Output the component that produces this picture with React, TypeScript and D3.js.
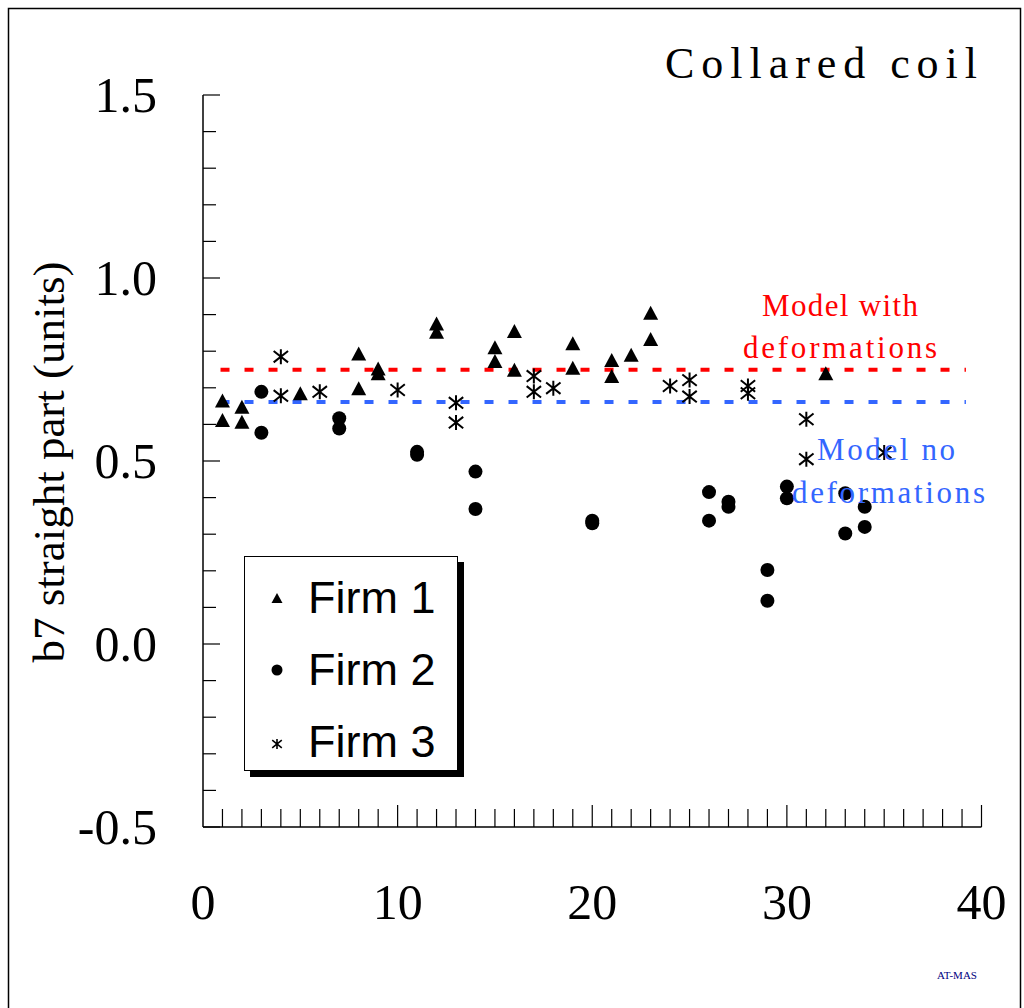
import React from "react";
import * as d3 from "d3";

const xTickLabels = [0, 10, 20, 30, 40];
const yTickLabels = [1.5, 1.0, 0.5, 0.0, -0.5];

const firm1X = [1, 1, 2, 2, 5, 8, 8, 9, 9, 12, 12, 15, 15, 16, 16, 19, 19, 21, 21, 22, 23, 23, 32];
const firm1Y = [0.665, 0.612, 0.648, 0.607, 0.685, 0.794, 0.699, 0.753, 0.74, 0.876, 0.853, 0.811, 0.773, 0.855, 0.749, 0.822, 0.755, 0.776, 0.732, 0.79, 0.905, 0.833, 0.74];

const firm2X = [3, 3, 7, 7, 11, 11, 14, 14, 20, 20, 26, 26, 27, 27, 29, 29, 30, 30, 33, 33, 34, 34];
const firm2Y = [0.689, 0.577, 0.617, 0.589, 0.525, 0.517, 0.471, 0.369, 0.337, 0.33, 0.415, 0.337, 0.389, 0.375, 0.202, 0.118, 0.43, 0.398, 0.412, 0.302, 0.375, 0.32];

const firm3X = [4, 4, 6, 10, 13, 13, 17, 17, 18, 24, 25, 25, 28, 28, 31, 31, 35];
const firm3Y = [0.785, 0.678, 0.689, 0.694, 0.659, 0.605, 0.732, 0.689, 0.699, 0.705, 0.721, 0.676, 0.705, 0.685, 0.614, 0.505, 0.523];

const modelWith = 0.749;
const modelNo = 0.661;
const modelXRange = [0.9, 39.2];

const legendLabels = ["Firm 1", "Firm 2", "Firm 3"];

const SERIF = "'Liberation Serif', 'Times New Roman', serif";
const SANS = "'Liberation Sans', Arial, sans-serif";

function Triangle({ cx, cy, w, h }: { cx: number; cy: number; w: number; h: number }) {
  return <path d={`M${cx},${cy - h / 2} L${cx + w / 2},${cy + h / 2} L${cx - w / 2},${cy + h / 2} Z`} fill="#000" />;
}

function Star({ cx, cy, s, sw }: { cx: number; cy: number; s: number; sw: number }) {
  const dx = s * 0.48;
  const dy = s * 0.38;
  return (
    <path
      d={`M${cx},${cy - s / 2} L${cx},${cy + s / 2} M${cx - dx},${cy - dy} L${cx + dx},${cy + dy} M${cx - dx},${cy + dy} L${cx + dx},${cy - dy}`}
      stroke="#000"
      strokeWidth={sw}
      fill="none"
    />
  );
}

export default function App() {
  const x = d3.scaleLinear().domain([0, 40]).range([203, 981.5]);
  const y = d3.scaleLinear().domain([-0.5, 1.5]).range([827, 95]);

  const xMinor = d3.range(1, 41);
  const yMinor = d3.range(-5, 16).map((v) => v / 10);

  const dashed = d3.line<[number, number]>().x((d) => x(d[0])).y((d) => y(d[1]));

  return (
    <svg width={1024} height={1008} style={{ position: "absolute", left: 0, top: 0, background: "#fff" }}>
      <rect x={0} y={0} width={1024} height={1008} fill="#fff" />
      <rect x={8.5} y={8.5} width={1012} height={1010} fill="none" stroke="#000" strokeWidth={1.5} />

      {/* title */}
      <text x={665} y={78} fontFamily={SERIF} fontSize={44} textLength={312} lengthAdjust="spacing" fill="#000">
        Collared coil
      </text>

      {/* y axis label */}
      <text
        transform={`translate(64,462) rotate(-90)`}
        textAnchor="middle"
        fontFamily={SERIF}
        fontSize={45}
        fill="#000"
      >
        b7 straight part (units)
      </text>

      {/* axes */}
      <line x1={x(0)} x2={x(0)} y1={y(1.5)} y2={y(-0.5)} stroke="#000" strokeWidth={1.5} />
      <line x1={x(0)} x2={x(40)} y1={y(-0.5)} y2={y(-0.5)} stroke="#000" strokeWidth={1.5} />

      {yMinor.map((v) => {
        const major = Math.abs(Math.round(v * 10) % 5) === 0;
        return (
          <line key={"yt" + v} x1={x(0)} x2={x(0) + (major ? 17 : 13)} y1={y(v)} y2={y(v)} stroke="#000" strokeWidth={1.2} />
        );
      })}
      {xMinor.map((v) => {
        const major = v % 10 === 0;
        return (
          <line key={"xt" + v} x1={x(v)} x2={x(v)} y1={y(-0.5)} y2={y(-0.5) - (major ? 22 : 18)} stroke="#000" strokeWidth={1.2} />
        );
      })}

      {yTickLabels.map((v) => (
        <text key={"yl" + v} x={157} y={y(v) + 17} textAnchor="end" fontFamily={SERIF} fontSize={50} fill="#000">
          {v.toFixed(1)}
        </text>
      ))}
      {xTickLabels.map((v) => (
        <text key={"xl" + v} x={x(v)} y={919} textAnchor="middle" fontFamily={SERIF} fontSize={50} fill="#000">
          {v}
        </text>
      ))}

      {/* model lines */}
      <path
        d={dashed([[modelXRange[0], modelWith], [modelXRange[1], modelWith]]) || ""}
        stroke="#ff0000"
        strokeWidth={4}
        strokeDasharray="9 15"
        fill="none"
      />
      <path
        d={dashed([[modelXRange[0], modelNo], [modelXRange[1], modelNo]]) || ""}
        stroke="#3366ff"
        strokeWidth={4}
        strokeDasharray="9 15"
        fill="none"
      />

      {/* points */}
      {firm2X.map((xv, i) => (
        <circle key={"f2" + i} cx={x(xv)} cy={y(firm2Y[i])} r={7} fill="#000" />
      ))}
      {firm1X.map((xv, i) => (
        <Triangle key={"f1" + i} cx={x(xv)} cy={y(firm1Y[i])} w={15} h={14} />
      ))}
      {firm3X.map((xv, i) => (
        <Star key={"f3" + i} cx={x(xv)} cy={y(firm3Y[i])} s={15} sw={2} />
      ))}

      {/* model annotations */}
      <text x={762} y={316} fontFamily={SERIF} fontSize={31} fill="#ff0000" textLength={156} lengthAdjust="spacing">
        Model with
      </text>
      <text x={743} y={358} fontFamily={SERIF} fontSize={31} fill="#ff0000" textLength={194} lengthAdjust="spacing">
        deformations
      </text>
      <text x={817} y={460} fontFamily={SERIF} fontSize={31} fill="#3366ff" textLength={138} lengthAdjust="spacing">
        Model no
      </text>
      <text x={792} y={503} fontFamily={SERIF} fontSize={31} fill="#3366ff" textLength={193} lengthAdjust="spacing">
        deformations
      </text>

      {/* legend */}
      <rect x={250} y={562} width={214} height={215} fill="#000" />
      <rect x={244.5} y={556.5} width={213} height={214} fill="#fff" stroke="#000" strokeWidth={1} />
      <Triangle cx={277} cy={598} w={11} h={10} />
      <circle cx={277} cy={670} r={5.5} fill="#000" />
      <Star cx={277} cy={744} s={10} sw={1.6} />
      {legendLabels.map((t, i) => (
        <text key={t} x={308} y={613 + i * 72} fontFamily={SANS} fontSize={45} fill="#000">
          {t}
        </text>
      ))}

      <text x={957} y={979} textAnchor="middle" fontFamily={SERIF} fontSize={11} fill="#000080">
        AT-MAS
      </text>
    </svg>
  );
}
